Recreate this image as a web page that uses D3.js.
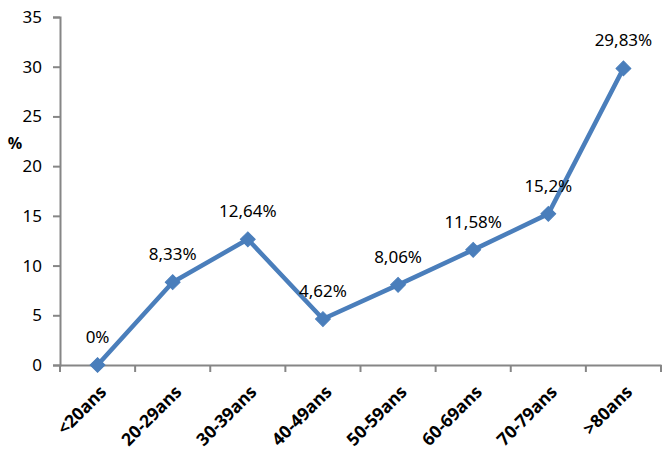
<!DOCTYPE html>
<html>
<head>
<meta charset="utf-8">
<script src="https://cdn.jsdelivr.net/npm/d3@7"></script>
<style>
  body { margin: 0; background: #fff; }
  svg { display: block; }
</style>
</head>
<body>
<svg id="chart" width="667" height="458"></svg>
<script>
// data
const categories = ['<20ans', '20-29ans', '30-39ans', '40-49ans', '50-59ans', '60-69ans', '70-79ans', '>80ans'];
const values = [0, 8.33, 12.64, 4.62, 8.06, 11.58, 15.2, 29.83];
const valueLabels = ['0%', '8,33%', '12,64%', '4,62%', '8,06%', '11,58%', '15,2%', '29,83%'];
const yTicks = [0, 5, 10, 15, 20, 25, 30, 35];

const svg = d3.select('#chart');
const plotLeft = 60, plotRight = 661, plotTop = 17, plotBottom = 365;
const axisColor = '#868686';
const lineColor = '#4a7ebb';
const font = '"Noto Sans", "Open Sans", sans-serif';

const x = d3.scaleBand().domain(categories).range([plotLeft, plotRight]);
const y = d3.scaleLinear().domain([0, 35]).range([plotBottom, plotTop]);

// y axis
const yAxis = svg.append('g')
  .attr('transform', `translate(${plotLeft},0)`)
  .call(d3.axisLeft(y).tickValues(yTicks).tickSize(7).tickPadding(11));
yAxis.select('.domain').attr('stroke', axisColor).attr('stroke-width', 2);
yAxis.selectAll('.tick line').attr('stroke', axisColor).attr('stroke-width', 2);
yAxis.selectAll('.tick text')
  .attr('fill', '#000')
  .style('font-family', font)
  .style('font-size', '17px');

// x axis
const xAxis = svg.append('g')
  .attr('transform', `translate(0,${plotBottom})`)
  .call(d3.axisBottom(x).tickSize(0).tickFormat(''));
xAxis.select('.domain').attr('stroke', axisColor).attr('stroke-width', 2);
xAxis.selectAll('.tick').remove();

// tick marks at band edges
const edges = categories.map(c => x(c)).concat([plotRight]);
svg.append('g').selectAll('line')
  .data(edges)
  .join('line')
  .attr('x1', d => d).attr('x2', d => d)
  .attr('y1', plotBottom).attr('y2', plotBottom + 7)
  .attr('stroke', axisColor).attr('stroke-width', 2);

// rotated category labels
svg.append('g').selectAll('text')
  .data(categories)
  .join('text')
  .attr('transform', d => `translate(${x(d) + x.bandwidth() / 2 + 10},${plotBottom + 28}) rotate(-45)`)
  .attr('text-anchor', 'end')
  .style('font-family', font)
  .style('font-size', '17.5px')
  .style('font-weight', 'bold')
  .text(d => d);

// y title
svg.append('text')
  .attr('x', 15).attr('y', 149)
  .attr('text-anchor', 'middle')
  .style('font-family', font)
  .style('font-size', '16px')
  .style('font-weight', 'bold')
  .text('%');

// line
const pts = categories.map((c, i) => [x(c) + x.bandwidth() / 2, y(values[i])]);
svg.append('path')
  .attr('d', d3.line()(pts))
  .attr('fill', 'none')
  .attr('stroke', lineColor)
  .attr('stroke-width', 4.5)
  .attr('stroke-linejoin', 'round');

// diamond markers
svg.append('g').selectAll('path')
  .data(pts)
  .join('path')
  .attr('transform', d => `translate(${d[0]},${d[1]}) rotate(45)`)
  .attr('d', d3.symbol(d3.symbolSquare, 110)())
  .attr('fill', lineColor)
  .attr('stroke', lineColor)
  .attr('stroke-width', 1);

// value labels
svg.append('g').selectAll('text')
  .data(pts)
  .join('text')
  .attr('x', d => d[0])
  .attr('y', d => d[1] - 22)
  .attr('text-anchor', 'middle')
  .style('font-family', font)
  .style('font-size', '17px')
  .text((d, i) => valueLabels[i]);
</script>
</body>
</html>
